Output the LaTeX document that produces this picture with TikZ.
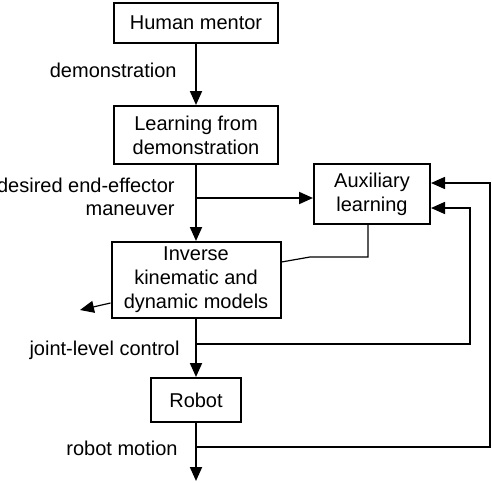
\documentclass[tikz,border=0pt]{standalone}
\usepackage{fontspec}
\setmainfont{Liberation Sans}
\usetikzlibrary{arrows.meta}

\begin{document}
\begin{tikzpicture}[x=0.5pt,y=-0.5pt,
    block/.style={draw,line width=1pt,align=center,inner sep=0pt,
        font=\fontsize{10}{12}\selectfont},
    flow/.style={line width=1pt,-{Triangle[length=7pt,width=6pt]}},
    feed/.style={line width=0.8pt,-{Triangle[length=7pt,width=6pt]}},
    thin/.style={line width=0.6pt},
    lbl/.style={font=\fontsize{10}{11.5}\selectfont,inner sep=0pt,anchor=east,align=right}]
                \useasboundingbox (0,0) rectangle (492,482);

                % Blocks
                \node[block,minimum width=82pt,minimum height=20pt] (mentor) at (196,23) {Human mentor};
                \node[block,minimum width=82pt,minimum height=29pt] (lfd) at (196,135) {Learning from\\demonstration};
                \node[block,minimum width=58pt,minimum height=30pt] (aux) at (372,194) {Auxiliary\\learning};
                \node[block,minimum width=84.5pt,minimum height=38pt] (inv) at (196,280) {Inverse\\kinematic and\\dynamic models};
                \node[block,minimum width=45pt,minimum height=22pt] (robot) at (196,400) {Robot};

                % Helper points
                \coordinate (split) at (196,198);
                \coordinate (joint) at (196,344);
                \coordinate (motion) at (196,447);
                \coordinate (out) at (80,310);
                \coordinate (end) at (196,481);

                % Main chain
                \draw[flow] (mentor) -- (lfd);
                \draw[flow] (lfd) -- (inv);
                \draw[flow] (split) -- (aux.west |- split);
                \draw[flow] (inv) -- (robot);
                \draw[flow] (robot) -- (end);

                % Side links
                \draw[thin] ([xshift=-2pt]aux.south) -- ++(0,32) -- ++(-58,0) -- ([yshift=9pt]inv.east);
                \draw[thin,-{Triangle[length=7pt,width=6pt]}] ([yshift=-11.5pt]inv.west) -- (out);

                % Feedback
                \draw[feed] (joint) -- (470,344) -- (470,208) -- ([yshift=-7pt]aux.east);
                \draw[feed] (motion) -- (490,447) -- (490,183) -- ([yshift=5.5pt]aux.east);

                % Labels
                \node[lbl] (demo) at (177,70) {demonstration};
                \node[lbl] (desired) at (175,197) {desired end-effector\\maneuver};
                \node[lbl] (jointlbl) at (180,350) {joint-level control};
                \node[lbl] (motionlbl) at (178,448) {robot motion};
\end{tikzpicture}
\end{document}
